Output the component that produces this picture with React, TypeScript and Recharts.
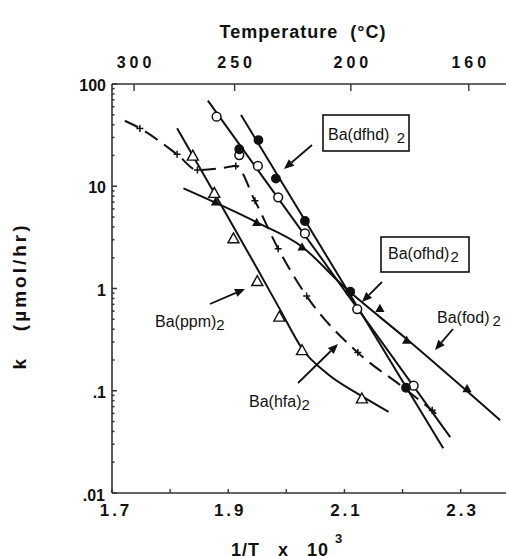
import { ComposedChart, Line, Scatter, XAxis, YAxis } from "recharts";

const FONT = "'Liberation Sans', Arial, Helvetica, sans-serif";
const INK = "#111";

const X_DOMAIN: [number, number] = [1.7, 2.378];
const K_DOMAIN: [number, number] = [0.01, 100];

// bottom axis: 1/T x 10^3
const invTTicks = [1.7, 1.8, 1.9, 2.0, 2.1, 2.2, 2.3];
const invTLabels = ["1.7", "", "1.9", "", "2.1", "", "2.3"];
// top axis: temperature, at the positions the figure uses
const tempTickPos = [1.738, 1.911, 2.111, 2.314];
const tempLabels = ["300", "250", "200", "160"];
// left axis: k, log decades
const kDecades = [0.01, 0.1, 1, 10, 100];
const kLabels = [".01", ".1", "1", "10", "100"];

// Ba(dfhd)2 - filled circles + fit line
const dfhdX = [1.919, 1.952, 1.982, 2.032, 2.11, 2.206];
const dfhdK = [23.0, 28.3, 11.9, 4.57, 0.93, 0.107];
const dfhdFitX = [1.922, 2.27];
const dfhdFitK = [49.8, 0.0274];

// Ba(ofhd)2 - open circles + fit line
const ofhdX = [1.88, 1.919, 1.951, 1.986, 2.032, 2.122, 2.219];
const ofhdK = [47.9, 20.2, 15.8, 7.8, 3.46, 0.629, 0.112];
const ofhdFitX = [1.865, 2.282];
const ofhdFitK = [68.7, 0.0352];

// Ba(fod)2 - filled triangles + curve
const fodX = [1.878, 1.949, 2.027, 2.161, 2.207, 2.311];
const fodK = [7.06, 4.44, 2.56, 0.64, 0.313, 0.105];
const fodCurveX = [1.823, 1.949, 2.027, 2.098, 2.207, 2.368];
const fodCurveK = [9.53, 4.44, 2.56, 1.056, 0.32, 0.0515];

// Ba(ppm)2 - open triangles + curve
const ppmX = [1.839, 1.876, 1.909, 1.95, 1.988, 2.027, 2.13];
const ppmK = [19.9, 8.6, 3.09, 1.18, 0.53, 0.249, 0.084];
const ppmCurveX = [1.812, 1.876, 1.95, 1.989, 2.029, 2.07, 2.127, 2.176];
const ppmCurveK = [36.9, 8.6, 1.56, 0.625, 0.249, 0.1475, 0.0906, 0.0622];

// Ba(hfa)2 - plus marks + dashed curve
const hfaX = [1.748, 1.812, 1.847, 1.913, 1.946, 1.986, 2.035, 2.123, 2.251];
const hfaK = [36.8, 20.5, 14.4, 15.8, 7.2, 2.45, 0.843, 0.236, 0.0645];
const hfaCurveX = [1.722, 1.748, 1.812, 1.847, 1.891, 1.913, 1.946, 1.986, 2.035, 2.123, 2.201, 2.268];
const hfaCurveK = [43.7, 36.8, 20.5, 14.4, 15.1, 15.8, 7.2, 2.45, 0.843, 0.236, 0.108, 0.0536];

const zip = (xs: number[], ks: number[]) => xs.map((x, i) => ({ x, y: ks[i] }));

const kTicks: number[] = [];
kDecades.forEach((d, i) => {
  kTicks.push(d);
  if (i < kDecades.length - 1) for (let m = 2; m <= 9; m++) kTicks.push(d * m);
});

const OpenCircle = ({ cx, cy }: any) => (
  <circle cx={cx} cy={cy} r={4.4} fill="#fff" stroke={INK} strokeWidth={1.5} />
);
const FilledCircle = ({ cx, cy }: any) => <circle cx={cx} cy={cy} r={4.9} fill={INK} />;
const OpenTriangle = ({ cx, cy }: any) => {
  const s = 5.5;
  return (
    <path
      d={`M${cx},${cy - s} L${cx + s},${cy + s * 0.8} L${cx - s},${cy + s * 0.8} Z`}
      fill="#fff"
      stroke={INK}
      strokeWidth={1.4}
    />
  );
};
const FilledTriangle = ({ cx, cy }: any) => {
  const s = 4.6;
  return <path d={`M${cx},${cy - s} L${cx + s},${cy + s * 0.8} L${cx - s},${cy + s * 0.8} Z`} fill={INK} />;
};
const Plus = ({ cx, cy }: any) => (
  <path d={`M${cx - 3.5},${cy} H${cx + 3.5} M${cx},${cy - 3.5} V${cy + 3.5}`} stroke={INK} strokeWidth={1.5} />
);

const BottomTick = ({ x, y, payload, index }: any) => {
  const i = typeof index === "number" ? index : invTTicks.indexOf(payload.value);
  return (
    <g>
      <line x1={x} x2={x} y1={y} y2={y - 4} stroke="#333" strokeWidth={1.4} />
      {invTLabels[i] && (
        <text x={x + (i === 0 ? 4 : 2)} y={y + 23} textAnchor="middle" fontFamily={FONT} fontSize={17} fontWeight="bold" letterSpacing={3} fill={INK}>
          {invTLabels[i]}
        </text>
      )}
    </g>
  );
};

const TopTick = ({ x, y, payload, index }: any) => {
  const i = typeof index === "number" ? index : tempTickPos.indexOf(payload.value);
  return (
    <g>
      <line x1={x} x2={x} y1={y} y2={y + 7} stroke="#333" strokeWidth={1.4} />
      <text x={x + 2} y={y - 16} textAnchor="middle" fontFamily={FONT} fontSize={16} fontWeight="bold" letterSpacing={4} fill={INK}>
        {tempLabels[i]}
      </text>
    </g>
  );
};

const LeftTick = ({ x, y, payload }: any) => {
  const i = kDecades.indexOf(payload.value);
  if (i < 0) return <line x1={x} x2={x + 2.5} y1={y} y2={y} stroke="#333" strokeWidth={1.5} />;
  return (
    <g>
      <line x1={x} x2={x + 5} y1={y} y2={y} stroke="#333" strokeWidth={1.5} />
      <text x={x - (i === 0 ? 7 : 6)} y={y + (i === 0 ? 8 : 7)} textAnchor="end" fontFamily={FONT} fontSize={16} fontWeight="bold" fill={INK}>
        {kLabels[i]}
      </text>
    </g>
  );
};

function Arrow({ x1, y1, x2, y2 }: { x1: number; y1: number; x2: number; y2: number }) {
  const a = Math.atan2(y2 - y1, x2 - x1);
  const len = 10;
  const hw = 4.2;
  const bx = x2 - len * Math.cos(a);
  const by = y2 - len * Math.sin(a);
  const px = -Math.sin(a) * hw;
  const py = Math.cos(a) * hw;
  return (
    <g>
      <line x1={x1} y1={y1} x2={bx} y2={by} stroke={INK} strokeWidth={1.8} />
      <path d={`M${x2},${y2} L${bx + px},${by + py} L${bx - px},${by - py} Z`} fill={INK} />
    </g>
  );
}

function SeriesLabel({ x, y, name, gap = 0 }: { x: number; y: number; name: string; gap?: number }) {
  return (
    <text x={x} y={y} fontFamily={FONT} fontSize={16} fill={INK}>
      {name}
      <tspan dx={gap} dy={3} fontSize={15}>
        2
      </tspan>
    </text>
  );
}

export default function App() {
  const lineProps = { dataKey: "y", stroke: INK, strokeWidth: 2, dot: false, isAnimationActive: false, legendType: "none" as const };
  const axisLine = { stroke: "#333", strokeWidth: 1.6 };
  return (
    <div style={{ position: "absolute", left: 0, top: 0, width: 506, height: 556, background: "#fff" }}>
      <ComposedChart width={506} height={556} margin={{ top: 83, right: 0, bottom: 62, left: 111 }}>
        <XAxis
          type="number"
          dataKey="x"
          domain={X_DOMAIN}
          allowDataOverflow
          ticks={invTTicks}
          interval={0}
          height={1}
          tickSize={0}
          tickMargin={0}
          tickLine={false}
          tick={<BottomTick />}
          axisLine={axisLine}
        />
        <XAxis
          xAxisId="top"
          orientation="top"
          type="number"
          dataKey="x"
          domain={X_DOMAIN}
          allowDataOverflow
          ticks={tempTickPos}
          interval={0}
          height={1}
          tickSize={0}
          tickMargin={0}
          tickLine={false}
          tick={<TopTick />}
          axisLine={axisLine}
        />
        <YAxis
          type="number"
          dataKey="y"
          scale="log"
          domain={K_DOMAIN}
          allowDataOverflow
          ticks={kTicks}
          interval={0}
          width={1}
          tickSize={0}
          tickMargin={0}
          tickLine={false}
          tick={<LeftTick />}
          axisLine={axisLine}
        />

        <Line data={zip(dfhdFitX, dfhdFitK)} type="linear" {...lineProps} />
        <Line data={zip(ofhdFitX, ofhdFitK)} type="linear" {...lineProps} />
        <Line data={zip(fodCurveX, fodCurveK)} type="monotone" {...lineProps} />
        <Line data={zip(ppmCurveX, ppmCurveK)} type="monotone" {...lineProps} />
        <Line data={zip(hfaCurveX, hfaCurveK)} type="monotone" {...lineProps} strokeDasharray="15 8" />

        <Scatter data={zip(hfaX, hfaK)} dataKey="y" shape={Plus} isAnimationActive={false} />
        <Scatter data={zip(ppmX, ppmK)} dataKey="y" shape={OpenTriangle} isAnimationActive={false} />
        <Scatter data={zip(fodX, fodK)} dataKey="y" shape={FilledTriangle} isAnimationActive={false} />
        <Scatter data={zip(ofhdX, ofhdK)} dataKey="y" shape={OpenCircle} isAnimationActive={false} />
        <Scatter data={zip(dfhdX, dfhdK)} dataKey="y" shape={FilledCircle} isAnimationActive={false} />
      </ComposedChart>

      <svg width={506} height={556} style={{ position: "absolute", left: 0, top: 0, pointerEvents: "none" }}>
        <text x={303} y={38} textAnchor="middle" fontFamily={FONT} fontSize={18} fontWeight="bold" letterSpacing={1} fill={INK} style={{ whiteSpace: "pre" }}>
          {"Temperature  (°C)"}
        </text>
        <text x={26} y={296} transform="rotate(-90 26 296)" textAnchor="middle" fontFamily={FONT} fontSize={19} fontWeight="bold" letterSpacing={3} fill={INK} style={{ whiteSpace: "pre" }}>
          {"k   (µmol/hr)"}
        </text>
        <text x={231} y={556} fontFamily={FONT} fontSize={18} fontWeight="bold" letterSpacing={1} fill={INK} style={{ whiteSpace: "pre" }}>
          {"1/T   x   10"}
          <tspan dx={6} dy={-13} fontSize={13}>
            3
          </tspan>
        </text>

        <rect x={323} y={115} width={86} height={36} fill="#fff" stroke={INK} strokeWidth={1.6} />
        <SeriesLabel x={328} y={140} name="Ba(dfhd) " gap={3} />
        <Arrow x1={312} y1={145} x2={284} y2={169} />

        <rect x={381} y={237} width={88} height={35} fill="#fff" stroke={INK} strokeWidth={1.6} />
        <SeriesLabel x={388} y={259} name="Ba(ofhd)" gap={1} />
        <Arrow x1={382} y1={282} x2={362} y2={302} />

        <SeriesLabel x={437} y={323} name="Ba(fod)" gap={3} />
        <Arrow x1={453} y1={329} x2={435} y2={350} />

        <SeriesLabel x={155} y={327} name="Ba(ppm)" />
        <Arrow x1={210} y1={304} x2={245} y2={289} />

        <SeriesLabel x={249} y={407} name="Ba(hfa)" />
        <Arrow x1={298} y1={383} x2={338} y2={344} />
      </svg>
    </div>
  );
}
